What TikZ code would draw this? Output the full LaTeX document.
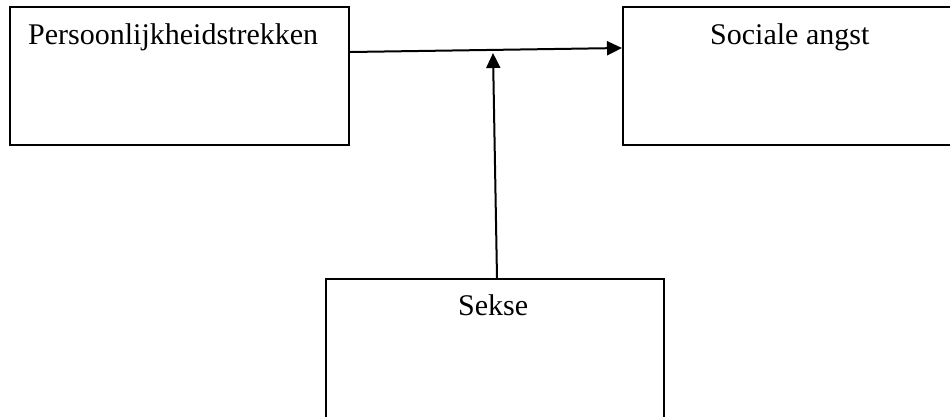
\documentclass[tikz,border=0pt]{standalone}
\usepackage{fontspec}
\setmainfont{Liberation Serif}
\usetikzlibrary{arrows.meta}
\tikzset{
  box/.style={draw, line width=2pt, rectangle, inner sep=0pt, anchor=north west},
  lbl/.style={anchor=base west, inner sep=0pt, font=\fontsize{30}{36}\selectfont},
  arr/.style={line width=2pt, -{Triangle[length=15pt,width=14pt]}}
}
\begin{document}
\begin{tikzpicture}[x=1pt,y=-1pt]
\useasboundingbox (0,0) rectangle (950,416);
\clip (0,0) rectangle (950,416);
\fill[white] (0,0) rectangle (950,416);
\node[box, minimum width=339pt, minimum height=138pt] (L) at (9,6) {};
\node[box, minimum width=340pt, minimum height=138pt] (R) at (622,6) {};
\node[box, minimum width=338pt, minimum height=150pt] (S) at (325,278) {};
\node[lbl] (tL) at (28,44) {Persoonlijkheidstrekken};
\node[lbl] (tR) at (710,44) {Sociale angst};
\node[lbl] (tS) at (458,315) {Sekse};
\coordinate (m) at (493,53);
\draw[arr] ([yshift=-46pt]L.north east) -- ([yshift=-42pt]R.north west);
\draw[arr] ([xshift=2pt]S.north) -- (m);
\end{tikzpicture}
\end{document}
